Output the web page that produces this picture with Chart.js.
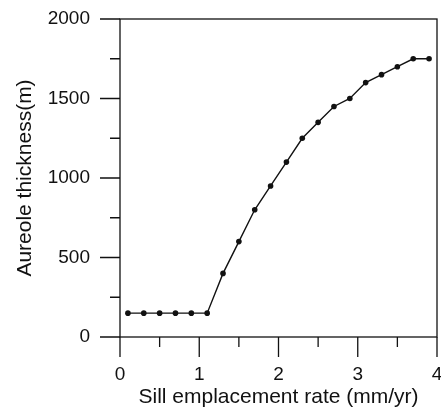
<!DOCTYPE html>
<html>
<head>
<meta charset="utf-8">
<script src="https://cdn.jsdelivr.net/npm/chart.js@4/dist/chart.umd.min.js"></script>
<style>
  html, body { margin: 0; padding: 0; background: #fff; overflow: hidden; }
</style>
</head>
<body>
<canvas id="chart" width="441" height="412"></canvas>
<script>
// values
const rates = [0.1, 0.3, 0.5, 0.7, 0.9, 1.1, 1.3, 1.5, 1.7, 1.9, 2.1, 2.3, 2.5, 2.7, 2.9, 3.1, 3.3, 3.5, 3.7, 3.9];
const thickness = [150, 150, 150, 150, 150, 150, 400, 600, 800, 950, 1100, 1250, 1350, 1450, 1500, 1600, 1650, 1700, 1750, 1750];
const xMajorTicks = [0, 1, 2, 3, 4];
const xMinorTicks = [0.5, 1.5, 2.5, 3.5];
const yMajorTicks = [0, 500, 1000, 1500, 2000];
const yMinorTicks = [250, 750, 1250, 1750];

const fontFamily = "'Liberation Sans', Arial, Helvetica, sans-serif";

// box around the plot plus outward ticks (long = labelled, short = minor)
const frameAndTicks = {
  id: "frameAndTicks",
  afterDraw(chart) {
    const { ctx, chartArea: a, scales: { x, y } } = chart;
    ctx.save();
    ctx.strokeStyle = "#111";
    ctx.lineWidth = 1.3;
    ctx.strokeRect(a.left, a.top, a.right - a.left, a.bottom - a.top);
    ctx.beginPath();
    yMajorTicks.forEach((v) => {
      const py = y.getPixelForValue(v);
      ctx.moveTo(a.left - 20, py);
      ctx.lineTo(a.left, py);
    });
    yMinorTicks.forEach((v) => {
      const py = y.getPixelForValue(v);
      ctx.moveTo(a.left - 10, py);
      ctx.lineTo(a.left, py);
    });
    xMajorTicks.forEach((v) => {
      const px = x.getPixelForValue(v);
      ctx.moveTo(px, a.bottom);
      ctx.lineTo(px, a.bottom + 20);
    });
    xMinorTicks.forEach((v) => {
      const px = x.getPixelForValue(v);
      ctx.moveTo(px, a.bottom);
      ctx.lineTo(px, a.bottom + 10);
    });
    ctx.stroke();
    ctx.restore();
  },
};

new Chart(document.getElementById("chart"), {
  type: "scatter",
  data: {
    datasets: [
      {
        data: rates.map((r, i) => ({ x: r, y: thickness[i] })),
        showLine: true,
        borderColor: "#111",
        borderWidth: 1.4,
        pointRadius: 2.8,
        pointBackgroundColor: "#111",
        pointBorderWidth: 0,
      },
    ],
  },
  options: {
    responsive: false,
    animation: false,
    events: [],
    layout: { padding: { top: 19, right: 3, left: 0, bottom: 0 } },
    plugins: { legend: { display: false }, tooltip: { enabled: false } },
    scales: {
      x: {
        type: "linear",
        min: 0,
        max: 4,
        grid: { display: false, drawTicks: false },
        border: { display: false },
        ticks: {
          stepSize: 1,
          padding: 26,
          color: "#111",
          font: { family: fontFamily, size: 19 },
          callback: (v) => String(v),
        },
        title: {
          display: true,
          text: "Sill emplacement rate (mm/yr)",
          color: "#111",
          padding: { top: 0, bottom: 2 },
          font: { family: fontFamily, size: 21 },
        },
        // fixed size, and let the "4" run off the edge like in the figure
        afterFit(scale) {
          scale.height = 75;
          scale.paddingLeft = 0;
          scale.paddingRight = 0;
        },
      },
      y: {
        min: 0,
        max: 2000,
        grid: { display: false, drawTicks: false },
        border: { display: false },
        ticks: {
          stepSize: 500,
          padding: 30,
          color: "#111",
          font: { family: fontFamily, size: 19 },
          callback: (v) => String(v),
        },
        title: {
          display: true,
          text: "Aureole thickness(m)",
          color: "#111",
          padding: { top: 13, bottom: 0 },
          font: { family: fontFamily, size: 21 },
        },
        afterFit(scale) {
          scale.width = 120;
          scale.paddingTop = 0;
          scale.paddingBottom = 0;
        },
      },
    },
  },
  plugins: [frameAndTicks],
});
</script>
</body>
</html>
